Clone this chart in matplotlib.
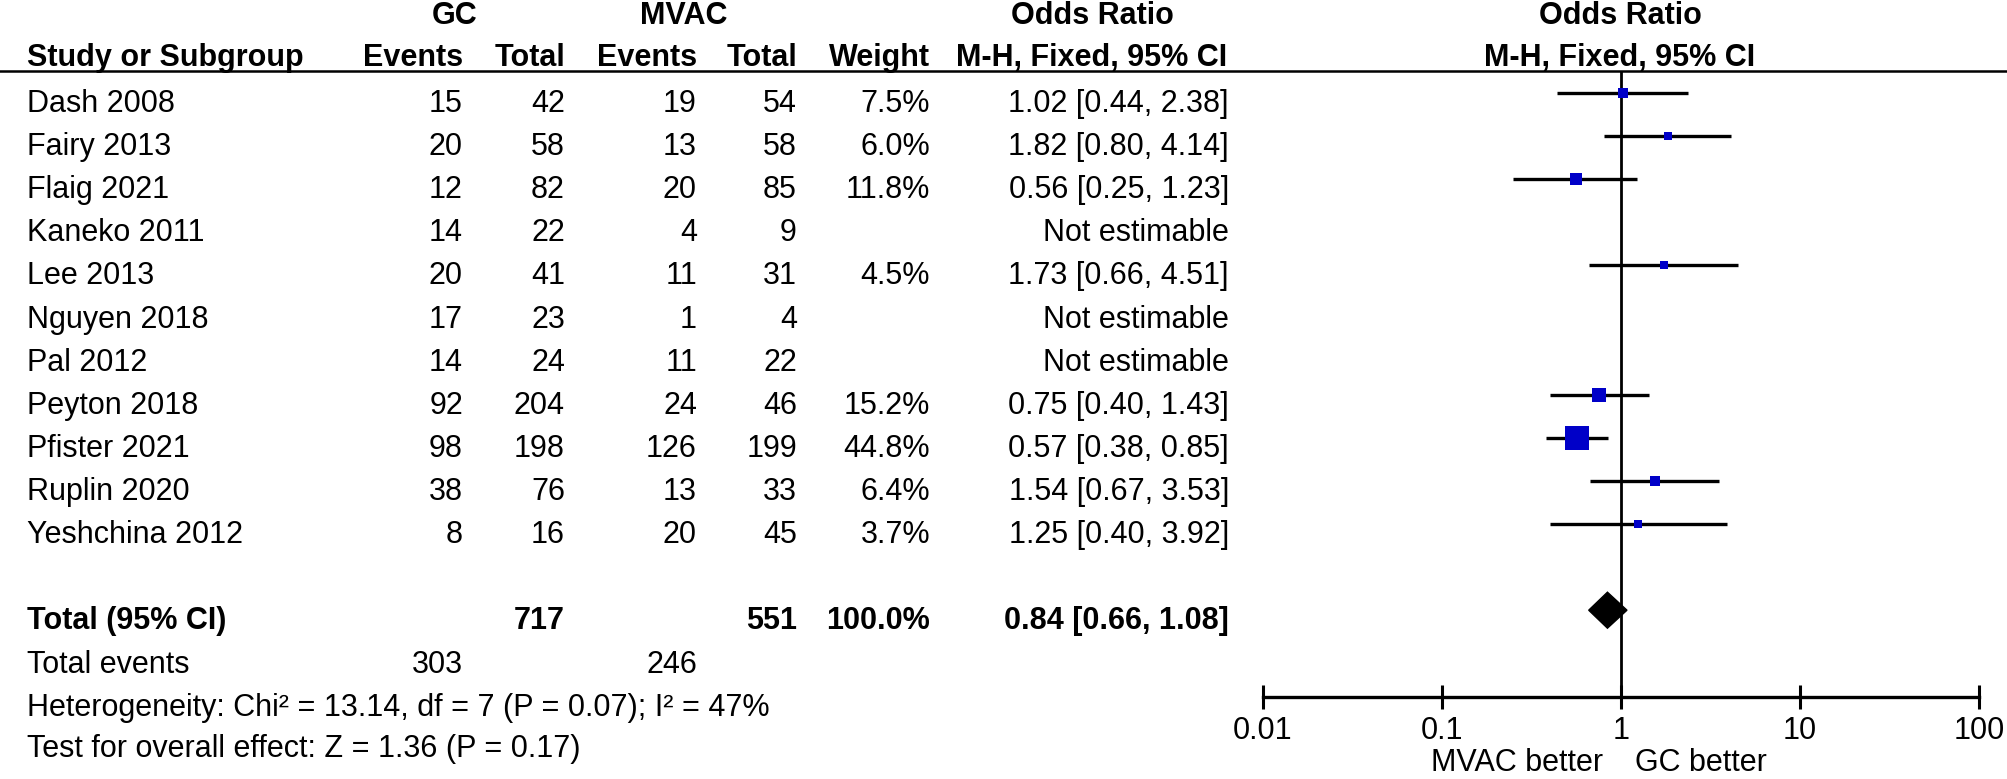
import numpy as np
import matplotlib
matplotlib.use('Agg')
from matplotlib import pyplot as plt

studies = ['Dash 2008', 'Fairy 2013', 'Flaig 2021', 'Kaneko 2011', 'Lee 2013',
           'Nguyen 2018', 'Pal 2012', 'Peyton 2018', 'Pfister 2021',
           'Ruplin 2020', 'Yeshchina 2012']
gc_events = [15, 20, 12, 14, 20, 17, 14, 92, 98, 38, 8]
gc_total = [42, 58, 82, 22, 41, 23, 24, 204, 198, 76, 16]
mvac_events = [19, 13, 20, 4, 11, 1, 11, 24, 126, 13, 20]
mvac_total = [54, 58, 85, 9, 31, 4, 22, 46, 199, 33, 45]
weights = [7.5, 6.0, 11.8, np.nan, 4.5, np.nan, np.nan, 15.2, 44.8, 6.4, 3.7]
or_est = [1.02, 1.82, 0.56, np.nan, 1.73, np.nan, np.nan, 0.75, 0.57, 1.54, 1.25]
or_lo = [0.44, 0.80, 0.25, np.nan, 0.66, np.nan, np.nan, 0.40, 0.38, 0.67, 0.40]
or_hi = [2.38, 4.14, 1.23, np.nan, 4.51, np.nan, np.nan, 1.43, 0.85, 3.53, 3.92]

total_gc, total_mvac = 717, 551
events_gc, events_mvac = 303, 246
pooled = (0.84, 0.66, 1.08)
het_text = 'Heterogeneity: Chi\u00b2 = 13.14, df = 7 (P = 0.07); I\u00b2 = 47%'
effect_text = 'Test for overall effect: Z = 1.36 (P = 0.17)'
xticks = [0.01, 0.1, 1, 10, 100]
xtick_labels = ['0.01', '0.1', '1', '10', '100']

plt.rcParams['font.family'] = ['Liberation Sans', 'DejaVu Sans']
FS = 22
W, H = 2008, 779

fig = plt.figure(figsize=(W / 100, H / 100), dpi=100)

# table part, drawn in pixel units
tab = fig.add_axes([0, 0, 1, 1])
tab.set_xlim(0, W)
tab.set_ylim(H, 0)
tab.axis('off')

def txt(x, y, s, ha='right', bold=False):
    tab.text(x, y, s, ha=ha, va='baseline', fontsize=FS,
             fontweight='bold' if bold else 'normal')

# column right edges
c_name, c_gce, c_gct, c_mve, c_mvt, c_w, c_or = 27, 463, 565, 697, 797, 930, 1229

# headers
txt(455, 24, 'GC', 'center', True)
txt(684, 24, 'MVAC', 'center', True)
txt(1092, 24, 'Odds Ratio', 'center', True)
txt(1620, 24, 'Odds Ratio', 'center', True)
txt(c_name, 66, 'Study or Subgroup', 'left', True)
txt(c_gce, 66, 'Events', bold=True)
txt(c_gct, 66, 'Total', bold=True)
txt(c_mve, 66, 'Events', bold=True)
txt(c_mvt, 66, 'Total', bold=True)
txt(c_w, 66, 'Weight', bold=True)
txt(1092, 66, 'M-H, Fixed, 95% CI', 'center', True)
txt(1620, 66, 'M-H, Fixed, 95% CI', 'center', True)
tab.plot([0, W], [71, 71], color='black', lw=1.8)

row_y = 93 + 43.1 * np.arange(len(studies))
for i, name in enumerate(studies):
    yb = row_y[i] + 19
    txt(c_name, yb, name, 'left')
    txt(c_gce, yb, str(gc_events[i]))
    txt(c_gct, yb, str(gc_total[i]))
    txt(c_mve, yb, str(mvac_events[i]))
    txt(c_mvt, yb, str(mvac_total[i]))
    if np.isnan(weights[i]):
        txt(c_or, yb, 'Not estimable')
    else:
        txt(c_w, yb, f'{weights[i]:.1f}%')
        txt(c_or, yb, f'{or_est[i]:.2f} [{or_lo[i]:.2f}, {or_hi[i]:.2f}]')

total_y = 93 + 43.1 * 12
txt(c_name, total_y + 19, 'Total (95% CI)', 'left', True)
txt(c_gct, total_y + 19, str(total_gc), bold=True)
txt(c_mvt, total_y + 19, str(total_mvac), bold=True)
txt(c_w, total_y + 19, '100.0%', bold=True)
txt(c_or, total_y + 19, f'{pooled[0]:.2f} [{pooled[1]:.2f}, {pooled[2]:.2f}]', bold=True)
txt(c_name, 673, 'Total events', 'left')
txt(c_gce, 673, str(events_gc))
txt(c_mve, 673, str(events_mvac))
txt(c_name, 716, het_text, 'left')
txt(c_name, 757, effect_text, 'left')
txt(1603, 771, 'MVAC better', 'right')
txt(1635, 771, 'GC better', 'left')

# forest plot, y in the same pixel units
top, bottom = 71, 697
left, right = 1263, 1979
ax = fig.add_axes([left / W, 1 - bottom / H, (right - left) / W, (bottom - top) / H])
ax.set_xscale('log')
ax.set_xlim(0.01, 100)
ax.set_ylim(bottom, top)
ax.patch.set_alpha(0)
for s in ['top', 'left', 'right']:
    ax.spines[s].set_visible(False)
ax.spines['bottom'].set_linewidth(2.4)
ax.set_yticks([])
ax.set_xticks(xticks)
ax.set_xticklabels(xtick_labels)
ax.minorticks_off()
ax.tick_params(axis='x', direction='inout', length=17, width=2.2, pad=5,
               labelsize=FS)
ax.axvline(1, color='black', lw=2)

for i in range(len(studies)):
    if np.isnan(weights[i]):
        continue
    ax.plot([or_lo[i], or_hi[i]], [row_y[i], row_y[i]], color='black', lw=2.4,
            solid_capstyle='butt', zorder=2)
    side = 24 * np.sqrt(weights[i] / 44.8) * 0.72
    ax.plot(or_est[i], row_y[i], 's', color='#0000c8', markersize=max(side, 6),
            markeredgewidth=0, zorder=3)

est, lo, hi = pooled
ax.fill([lo, est, hi, est], [total_y, total_y - 18, total_y, total_y + 18],
        color='black', zorder=3)

fig.savefig('out.png', dpi=100)
